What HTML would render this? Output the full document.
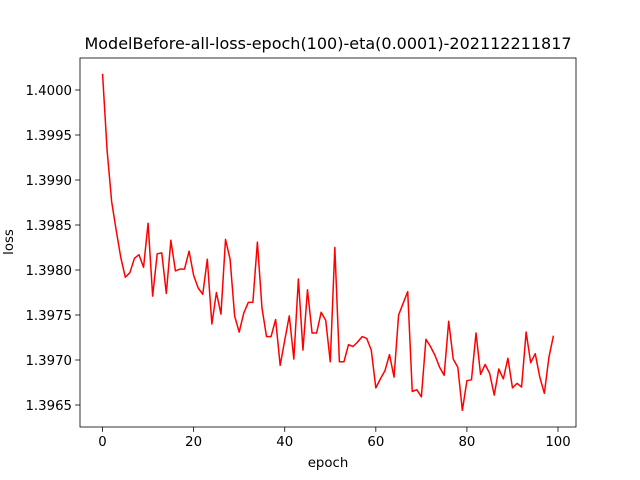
<!DOCTYPE html>
<html><head><meta charset="utf-8"><style>
body{margin:0;background:#fff;}
svg{display:block;font-family:"DejaVu Sans","Liberation Sans",sans-serif;}
</style></head><body>
<svg id="chart" width="640" height="480" viewBox="0 0 640 480">
<rect width="640" height="480" fill="#fff"/>
<text x="328" y="49" font-size="16" text-anchor="middle">ModelBefore-all-loss-epoch(100)-eta(0.0001)-202112211817</text>
<g id="plot"></g>
<text x="328" y="467" font-size="13.3" text-anchor="middle">epoch</text>
<text transform="translate(13,242) rotate(-90)" font-size="13.3" text-anchor="middle">loss</text>
</svg>
<script>
const epochs = Array.from({length:100},(_,i)=>i);
const lossValues = [1.40018,1.39933,1.39876,1.39844,1.39814,1.39792,1.39797,1.39813,1.39817,1.39803,
1.39852,1.39771,1.39818,1.39819,1.39774,1.39833,1.39799,1.39801,1.39801,1.39821,
1.39794,1.39780,1.39773,1.39812,1.39740,1.39775,1.39751,1.39834,1.39812,1.39749,
1.39731,1.39752,1.39764,1.39764,1.39831,1.39758,1.39726,1.39726,1.39745,1.39694,
1.39722,1.39749,1.39701,1.39790,1.39711,1.39778,1.39730,1.39730,1.39753,1.39744,
1.39698,1.39825,1.39698,1.39698,1.39717,1.39715,1.39720,1.39726,1.39724,1.39711,
1.39669,1.39679,1.39688,1.39706,1.39681,1.39750,1.39763,1.39776,1.39665,1.39667,
1.39659,1.39723,1.39715,1.39705,1.39692,1.39683,1.39743,1.39701,1.39692,1.39644,
1.39677,1.39678,1.39730,1.39684,1.39695,1.39685,1.39661,1.39690,1.39679,1.39702,
1.39669,1.39674,1.39670,1.39731,1.39697,1.39707,1.39681,1.39663,1.39703,1.39727];
const xTicks = [0,20,40,60,80,100];
const yTicks = [1.3965,1.3970,1.3975,1.3980,1.3985,1.3990,1.3995,1.4000];
const yTickLabels = ["1.3965","1.3970","1.3975","1.3980","1.3985","1.3990","1.3995","1.4000"];

const L=80,R=576,T=58,B=427;
const xmin=-4.95,xmax=103.95;
const ymin=1.4-(427-90)/90000, ymax=1.4+(90-58)/90000;
const xs=v=>L+(v-xmin)/(xmax-xmin)*(R-L);
const ys=v=>B-(v-ymin)/(ymax-ymin)*(B-T);
const NS="http://www.w3.org/2000/svg";
const g=document.getElementById('plot');
function mk(t,a){const e=document.createElementNS(NS,t);for(const k in a)e.setAttribute(k,a[k]);g.appendChild(e);return e;}
const pts=lossValues.map((v,i)=>xs(epochs[i]).toFixed(2)+','+ys(v).toFixed(2)).join(' ');
const line=mk('polyline',{points:pts,fill:'none',stroke:'#ff0000','stroke-width':1.5,'stroke-linejoin':'round'});


xTicks.forEach(t=>{
  const x=xs(t);
  const tk=mk('line',{x1:x,x2:x,y1:B,y2:B+4.9,stroke:'#000','stroke-width':0.8});
  
  
  const tx=mk('text',{x:x,y:B+19,'font-size':13.3,'text-anchor':'middle'});
  tx.textContent=t;
  
  
});
yTicks.forEach((t,i)=>{
  const y=ys(t);
  const tk=mk('line',{x1:L-4.9,x2:L,y1:y,y2:y,stroke:'#000','stroke-width':0.8});
  
  
  const tx=mk('text',{x:L-8,y:y+4.8,'font-size':13.3,'text-anchor':'end'});
  tx.textContent=yTickLabels[i];
  
  
});
const fr=mk('rect',{x:L,y:T,width:R-L,height:B-T,fill:'none',stroke:'#000','stroke-width':0.8});


</script>
</body></html>
